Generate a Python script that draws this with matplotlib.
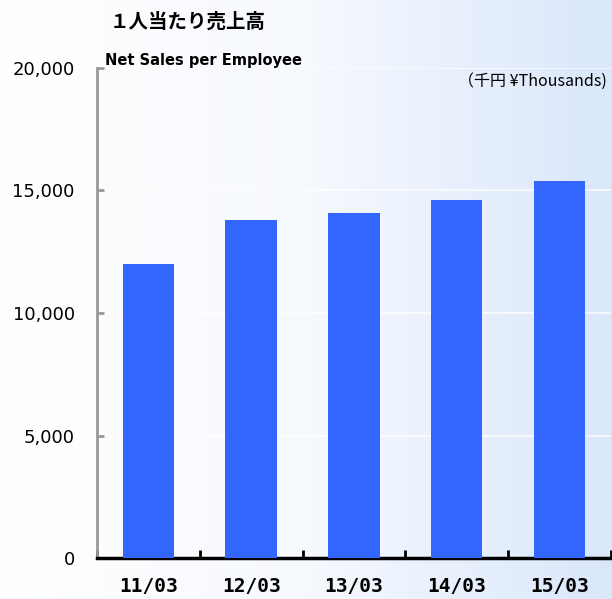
import matplotlib
matplotlib.use("Agg")
import matplotlib.pyplot as plt
import numpy as np
from matplotlib.colors import LinearSegmentedColormap

categories = ["11/03", "12/03", "13/03", "14/03", "15/03"]
values = [12000, 13800, 14100, 14600, 15400]
yticks = [0, 5000, 10000, 15000, 20000]
ytick_labels = ["0", "5,000", "10,000", "15,000", "20,000"]

fig = plt.figure(figsize=(6.12, 5.99), dpi=100)

# background gradient
bg = fig.add_axes([0, 0, 1, 1], zorder=-10)
cmap = LinearSegmentedColormap.from_list("bg", ["#ffffff", "#f6f9fe", "#dae7fb"])
grad = np.linspace(0, 1, 256).reshape(1, -1)
bg.imshow(grad, aspect="auto", cmap=cmap, extent=[0, 1, 0, 1])
bg.axis("off")

ax = fig.add_axes([0.1585, 0.0684, 0.998 - 0.1585, 0.8865 - 0.0684])
ax.patch.set_alpha(0)
x = np.arange(len(categories))
ax.bar(x, values, width=0.5, color="#3366ff", zorder=3)
ax.set_xlim(-0.5, len(categories) - 0.5)
ax.set_ylim(0, 20000)

for yv in yticks[1:]:
    ax.axhline(yv, color="white", lw=1.2, alpha=0.8, zorder=1)

ax.set_yticks(yticks)
ax.set_yticklabels(ytick_labels, fontsize=13, family="DejaVu Sans")
ax.tick_params(axis="y", direction="in", length=5, width=2, color="#999999", pad=16)

ax.set_xticks(x)
ax.set_xticklabels(categories, fontsize=14, fontweight="bold", family="DejaVu Sans Mono")
ax.set_xticks(np.arange(-0.5, len(categories) + 0.5, 1.0), minor=True)
ax.tick_params(axis="x", which="major", length=0, pad=14)
ax.tick_params(axis="x", which="minor", direction="in", length=6, width=2, color="black")

for s in ["top", "right"]:
    ax.spines[s].set_visible(False)
ax.spines["left"].set_color("#999999")
ax.spines["left"].set_linewidth(2)
ax.spines["bottom"].set_color("black")
ax.spines["bottom"].set_linewidth(2.5)

fig.text(110 / 612, 1 - 22 / 599, "１人当たり売上高", fontsize=14, fontweight="bold",
         family=["Noto Sans CJK JP", "DejaVu Sans"], va="center", ha="left")
fig.text(105 / 612, 1 - 60 / 599, "Net Sales per Employee", fontsize=10.5, fontweight="bold",
         family="DejaVu Sans", va="center", ha="left")
fig.text(607 / 612, 1 - 81 / 599, "（千円 ¥Thousands)", fontsize=11.5,
         family=["Noto Sans CJK JP", "DejaVu Sans"], va="center", ha="right")

fig.savefig("out.png", dpi=100)
